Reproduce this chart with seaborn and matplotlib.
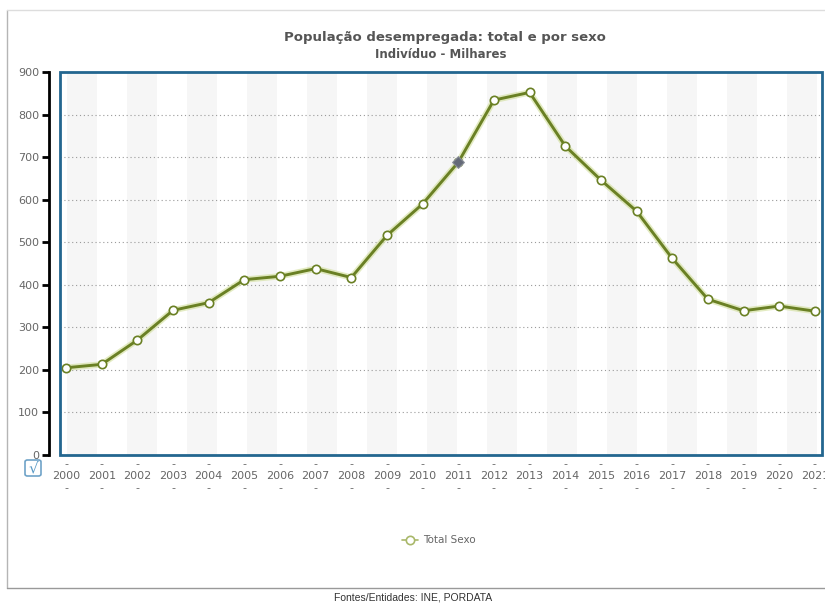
import matplotlib
matplotlib.use('Agg')
import matplotlib.pyplot as plt
import seaborn as sns
import pandas as pd
from matplotlib.patches import Rectangle, FancyBboxPatch
from matplotlib.lines import Line2D

# --- Data (thousands of individuals) ---
years = list(range(2000, 2022))
total_sexo = [205, 213, 270, 340, 358, 412, 420, 438, 417, 516, 590,
              688, 834, 852, 726, 646, 573, 462, 366, 339, 350, 338]
highlight_year = 2011

title = 'População desempregada: total e por sexo'
subtitle = 'Indivíduo - Milhares'
series_name = 'Total Sexo'
source = 'Fontes/Entidades: INE, PORDATA'

# colours
OLIVE = '#6a8024'
FRAME = '#23668f'
TXT = '#666666'

sns.set_theme(style='white')
plt.rcParams['font.family'] = ['DejaVu Sans']

df = pd.DataFrame({'ano': years, 'valor': total_sexo})

fig = plt.figure(figsize=(8.25, 6.09), dpi=100)
ax = fig.add_axes([60 / 825, 1 - 455 / 609, 762 / 825, 383 / 609])

# alternating background stripes
for k in range(13):
    ax.add_patch(Rectangle((7 / 762 + k * 60 / 762, 0), 30 / 762, 1,
                           transform=ax.transAxes, facecolor='#f6f6f6',
                           edgecolor='none', zorder=0))

# dotted horizontal grid
for v in range(100, 900, 100):
    ax.axhline(v, color='#9a9a9a', linestyle=(0, (1, 2.5)), linewidth=0.8, zorder=1)

# line with soft highlight underneath
sns.lineplot(data=df, x='ano', y='valor', ax=ax, color='#cddc90',
             linewidth=4.5, alpha=0.55, zorder=2, legend=False)
sns.lineplot(data=df, x='ano', y='valor', ax=ax, color=OLIVE, linewidth=2.1,
             marker='o', markersize=6, markerfacecolor='white',
             markeredgecolor=OLIVE, markeredgewidth=1.2, zorder=3, legend=False)

# hovered point
hl = df[df['ano'] == highlight_year]
ax.scatter(hl['ano'], hl['valor'], marker='D', s=36, color='#646a78',
           edgecolor='#8a8f99', linewidth=0.8, zorder=4)

ax.set_xlim(1999.83, 2021.2)
ax.set_ylim(0, 900)
ax.set_xlabel('')
ax.set_ylabel('')

ax.set_yticks(range(0, 1000, 100))
ax.set_xticks(years)
ax.set_xticklabels([f'-\n{y}\n-' for y in years], linespacing=1.25)
ax.tick_params(axis='x', length=0, pad=3, labelsize=8, labelcolor=TXT)
ax.tick_params(axis='y', left=True, length=5, width=2, color='black',
               pad=2, labelsize=8, labelcolor=TXT)

for s in ['top', 'right', 'bottom']:
    ax.spines[s].set_visible(False)
ax.spines['left'].set_position(('outward', 8))
ax.spines['left'].set_color('black')
ax.spines['left'].set_linewidth(2)

# blue plot frame
ax.add_patch(Rectangle((0, 0), 1, 1, transform=ax.transAxes, fill=False,
                       edgecolor=FRAME, linewidth=2, zorder=5, clip_on=False))

# titles
fig.text(445 / 825, 1 - 38 / 609, title, ha='center', va='center',
         fontsize=9.5, fontweight='bold', color='#555555')
fig.text(441 / 825, 1 - 55 / 609, subtitle, ha='center', va='center',
         fontsize=8.5, fontweight='bold', color='#555555')

# checkbox icon
fig.patches.append(FancyBboxPatch((25 / 825, 1 - 476 / 609), 16 / 825, 16 / 609,
                                  boxstyle='round,pad=0,rounding_size=0.003',
                                  transform=fig.transFigure, facecolor='white',
                                  edgecolor='#6fa3c8', linewidth=1.2))
fig.text(33 / 825, 1 - 468 / 609, '√', ha='center', va='center',
         fontsize=11, color='#5a9ac6')

# legend
fig.add_artist(Line2D([402 / 825, 418 / 825], [1 - 540 / 609] * 2,
                      transform=fig.transFigure, color='#a9b86a', linewidth=1.2))
fig.add_artist(Line2D([410 / 825], [1 - 540 / 609], transform=fig.transFigure,
                      marker='o', markersize=6, markerfacecolor='white',
                      markeredgecolor='#a9b86a', markeredgewidth=1.2))
fig.text(423 / 825, 1 - 540 / 609, series_name, ha='left', va='center',
         fontsize=7.5, color=TXT)

# outer box and source
fig.add_artist(Line2D([7 / 825, 7 / 825], [1 - 10 / 609, 1 - 588 / 609],
                      transform=fig.transFigure, color='#b5b5b5', linewidth=1))
fig.add_artist(Line2D([7 / 825, 1], [1 - 10 / 609] * 2,
                      transform=fig.transFigure, color='#dddddd', linewidth=1))
fig.add_artist(Line2D([7 / 825, 1], [1 - 588 / 609] * 2,
                      transform=fig.transFigure, color='#999999', linewidth=1))
fig.text(413 / 825, 1 - 597 / 609, source, ha='center', va='center',
         fontsize=7.5, color='#333333', family=['Liberation Sans', 'DejaVu Sans'])

fig.savefig('out.png', dpi=100, facecolor='white')
